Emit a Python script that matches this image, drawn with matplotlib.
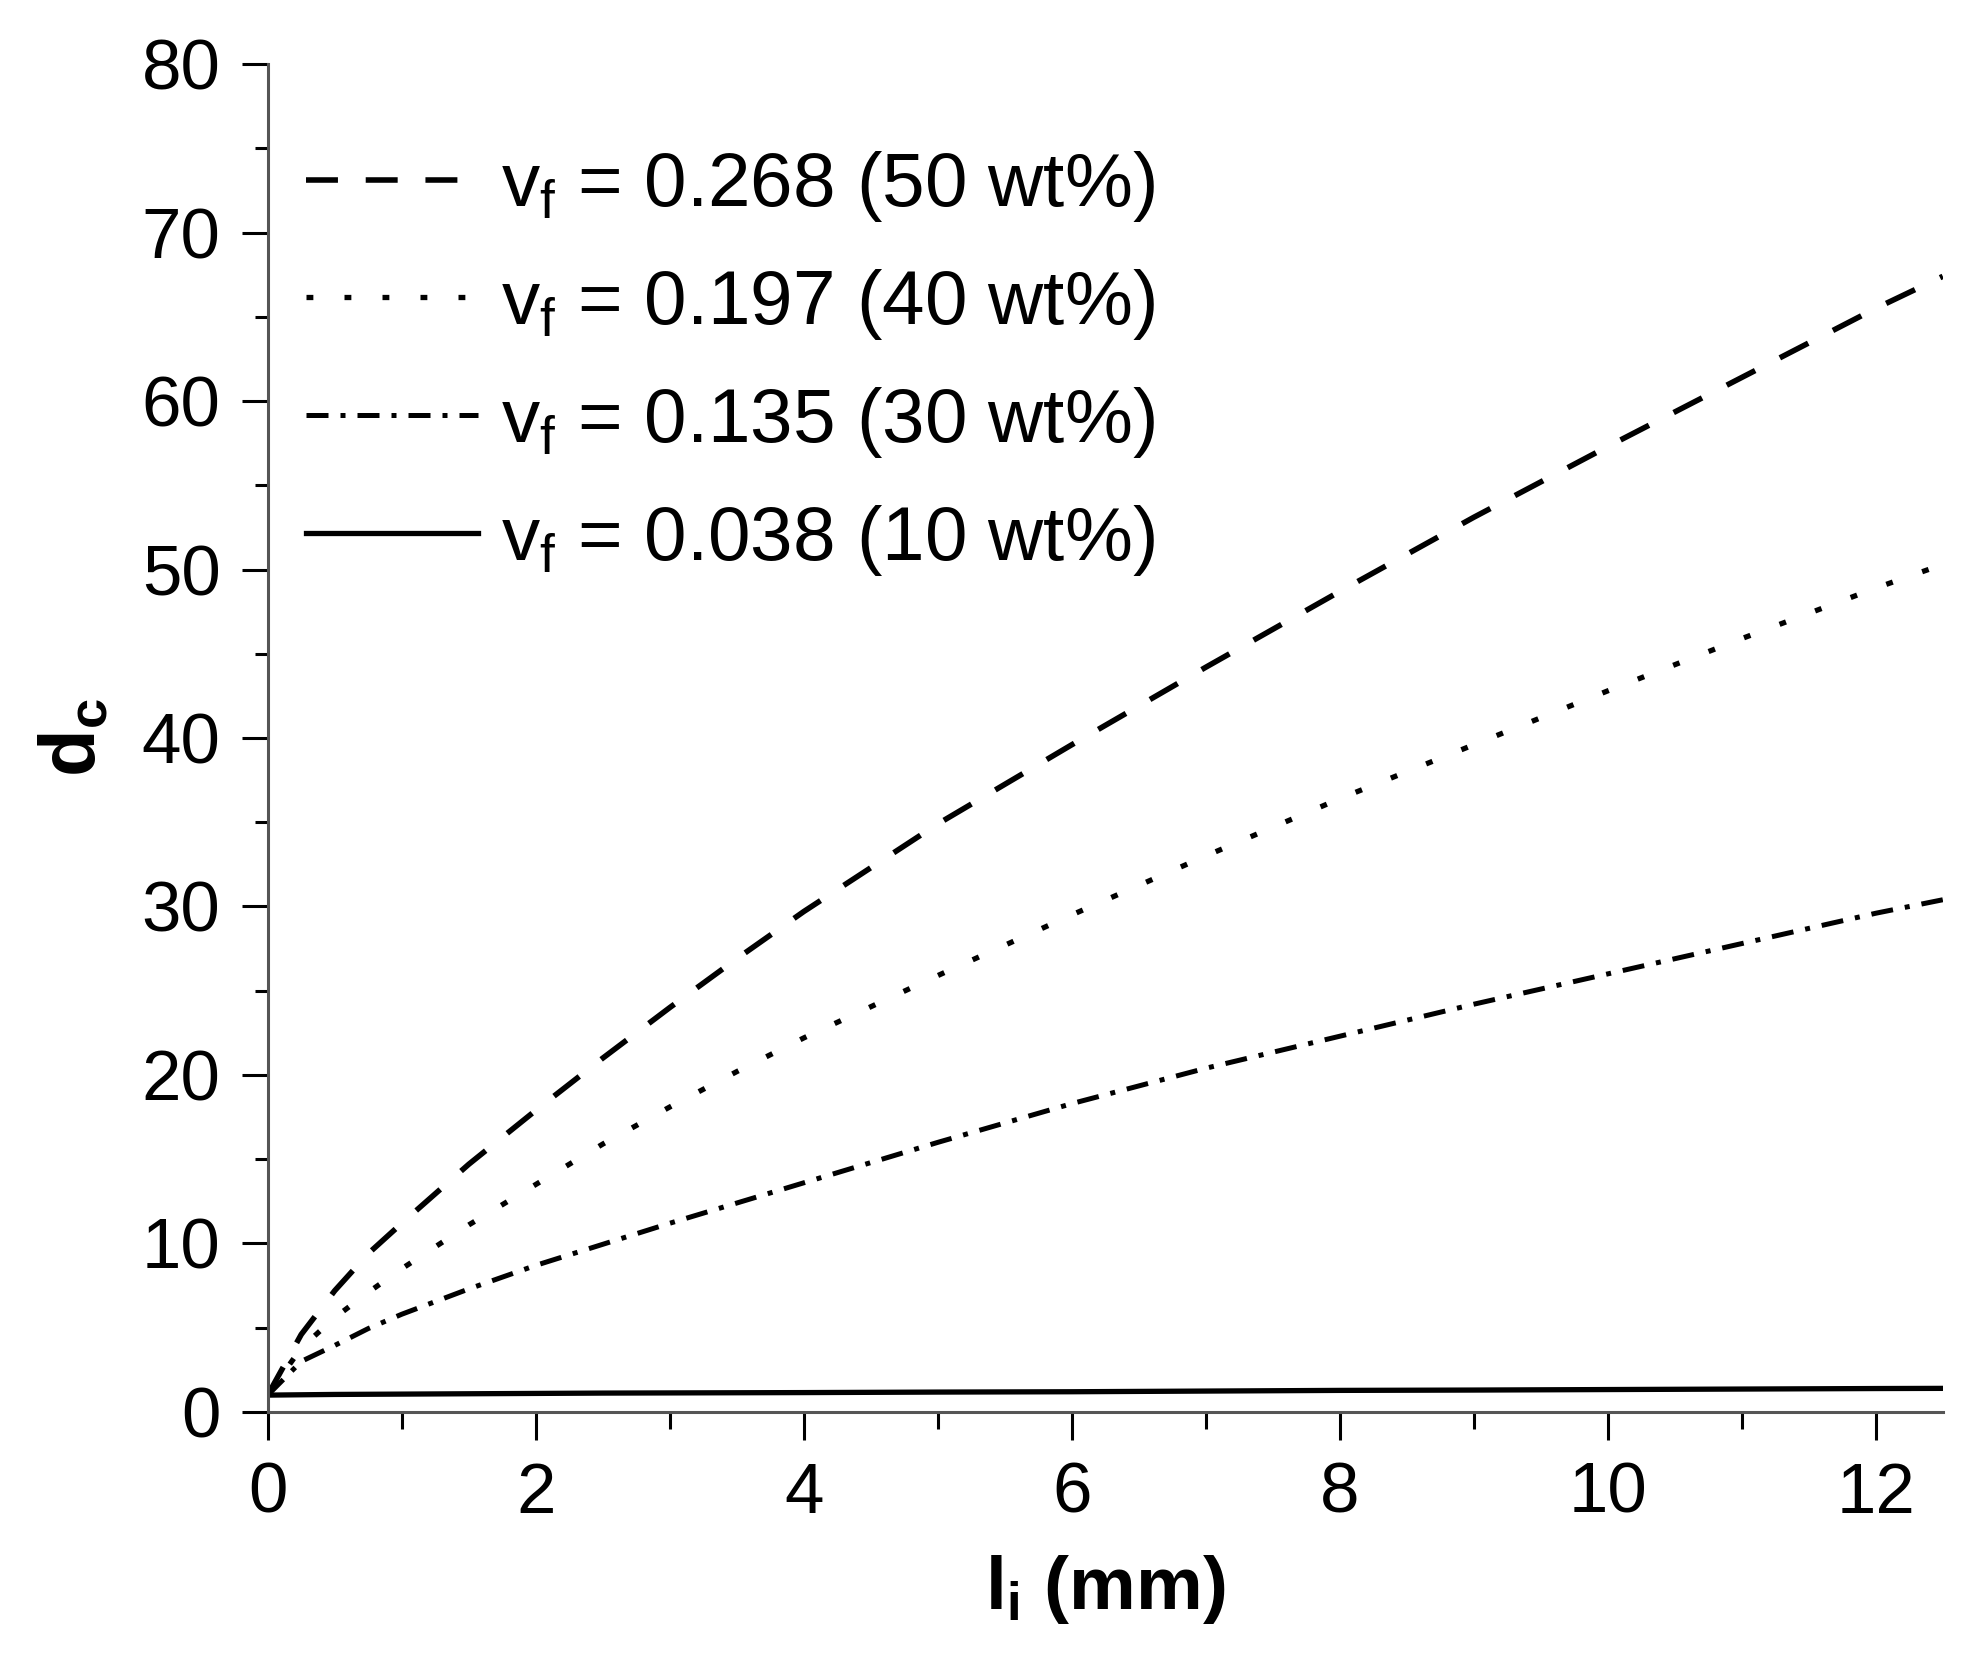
import matplotlib
matplotlib.use('Agg')
import matplotlib.pyplot as plt
from matplotlib.ticker import MultipleLocator

plt.rcParams['font.family'] = ['Liberation Sans', 'DejaVu Sans']
plt.rcParams['mathtext.fontset'] = 'custom'
plt.rcParams['mathtext.rm'] = 'Liberation Sans'
plt.rcParams['mathtext.it'] = 'Liberation Sans:italic'
plt.rcParams['mathtext.bf'] = 'Liberation Sans:bold'

# inclusion length l_i (mm)
li = [0, 0.25, 0.5, 0.75, 1, 1.5, 2, 2.5, 3, 3.5, 4, 5, 6, 7, 8, 9, 10, 11, 12, 12.5]

# critical diameter ratio d_c
dc_50 = [1.0, 4.6, 7.2, 9.4, 11.2, 14.7, 17.9, 21.0, 24.0, 26.9, 29.7,
         34.9, 39.6, 44.2, 48.7, 53.1, 57.3, 61.4, 65.5, 67.4]
dc_40 = [1.0, 3.8, 5.6, 7.1, 8.5, 11.1, 13.5, 15.9, 18.1, 20.2, 22.2,
         25.9, 29.5, 33.0, 36.4, 39.6, 42.8, 45.9, 48.9, 50.3]
dc_30 = [1.0, 3.0, 3.95, 4.95, 5.8, 7.3, 8.7, 9.95, 11.2, 12.4, 13.6,
         16.0, 18.3, 20.4, 22.3, 24.2, 26.0, 27.8, 29.6, 30.4]
dc_10 = [1.0, 1.02, 1.04, 1.05, 1.06, 1.08, 1.1, 1.12, 1.13, 1.14, 1.15,
         1.18, 1.2, 1.24, 1.28, 1.3, 1.33, 1.36, 1.39, 1.4]

labels = [r'$\mathregular{v_f}$ = 0.268 (50 wt%)',
          r'$\mathregular{v_f}$ = 0.197 (40 wt%)',
          r'$\mathregular{v_f}$ = 0.135 (30 wt%)',
          r'$\mathregular{v_f}$ = 0.038 (10 wt%)']

fig = plt.figure(figsize=(19.76, 16.68), dpi=100)
ax = fig.add_axes([0.1355, 0.1535, 0.8477, 0.8081])

ax.plot(li, dc_50, color='black', lw=4.0, linestyle=(0, (5.75, 5.0)), label=labels[0])
ax.plot(li, dc_40, color='black', lw=3.8, linestyle=(0, (1.3, 5.9)), label=labels[1])
ax.plot(li, dc_30, color='black', lw=3.6, linestyle=(0, (4.4, 2.4, 1.0, 2.4)), label=labels[2])
ax.plot(li, dc_10, color='black', lw=3.8, linestyle='-', label=labels[3])

ax.set_xlim(0, 12.5)
ax.set_ylim(0, 80)
ax.xaxis.set_major_locator(MultipleLocator(2))
ax.xaxis.set_minor_locator(MultipleLocator(1))
ax.yaxis.set_major_locator(MultipleLocator(10))
ax.yaxis.set_minor_locator(MultipleLocator(5))

# axes decoration
for side in ['top', 'right']:
    ax.spines[side].set_visible(False)
for side in ['left', 'bottom']:
    ax.spines[side].set_color('#555555')
    ax.spines[side].set_linewidth(2.2)
ax.tick_params(axis='both', which='both', direction='out', width=2.2, color='black')
ax.tick_params(axis='x', which='major', length=20, pad=16, labelsize=51)
ax.tick_params(axis='x', which='minor', length=12)
ax.tick_params(axis='y', which='major', length=19, pad=15, labelsize=51)
ax.tick_params(axis='y', which='minor', length=9.5)

ax.set_xlabel(r'$\mathbf{l_i}$ (mm)', fontsize=54, fontweight='bold', labelpad=18)
ax.set_ylabel(r'$\mathbf{d_c}$', fontsize=56, fontweight='bold', labelpad=22)

ax.legend(loc='upper left', bbox_to_anchor=(0.0, 0.965), frameon=False,
          fontsize=55, handlelength=2.25, handletextpad=0.3, labelspacing=0.56,
          borderaxespad=0.0, borderpad=0.5)

fig.savefig('out.png', dpi=100, facecolor='white')
